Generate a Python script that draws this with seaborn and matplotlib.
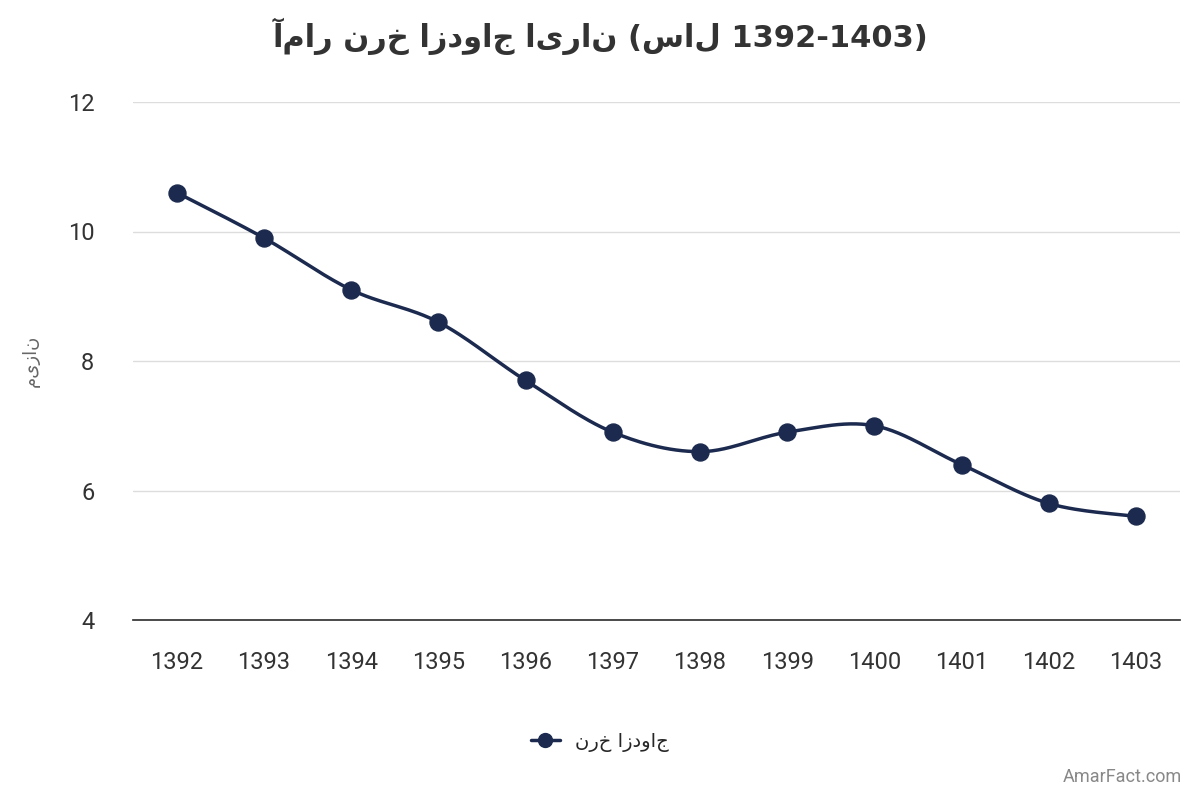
import matplotlib
matplotlib.use("Agg")
import matplotlib.pyplot as plt
import seaborn as sns
import numpy as np
import pandas as pd

years = ["1392","1393","1394","1395","1396","1397","1398","1399","1400","1401","1402","1403"]
rates = [10.6, 9.9, 9.1, 8.6, 7.7, 6.9, 6.6, 6.9, 7.0, 6.4, 5.8, 5.6]
title = "آمار نرخ ازدواج ایران (سال 1392-1403)"
series_name = "نرخ ازدواج"
y_label = "میزان"

sns.set_theme(style="white")
plt.rcParams['font.family'] = ['Roboto', 'DejaVu Sans']
color = "#1b2a4e"

fig = plt.figure(figsize=(12, 8), dpi=100)
ax = fig.add_axes([0.111, 0.225, 0.872, 0.6475])

df = pd.DataFrame({"x": np.arange(len(years)), "y": rates})

# smooth rendering of the line through the data points (Catmull-Rom)
P = np.column_stack([df.x.values, df.y.values]).astype(float)
Pe = np.vstack([P[0], P, P[-1]])
xs, ys = [], []
for i in range(1, len(Pe) - 2):
    p0, p1, p2, p3 = Pe[i-1], Pe[i], Pe[i+1], Pe[i+2]
    t = np.linspace(0, 1, 30)[:, None]
    c = 0.5 * ((2*p1) + (-p0 + p2)*t + (2*p0 - 5*p1 + 4*p2 - p3)*t**2 + (-p0 + 3*p1 - 3*p2 + p3)*t**3)
    xs.extend(c[:, 0]); ys.extend(c[:, 1])
ax.plot(xs, ys, color=color, lw=2.5, zorder=2)
sns.scatterplot(data=df, x="x", y="y", color=color, s=150, ax=ax, zorder=3, edgecolor=color, legend=False)

ax.set_xlim(-0.5, 11.5)
ax.set_ylim(4, 12)
ax.set_yticks([4, 6, 8, 10, 12])
ax.set_xticks(range(len(years)))
ax.set_xticklabels(years)
ax.tick_params(axis='both', labelsize=17, colors="#333333", length=0)
ax.tick_params(axis='x', pad=22)
ax.tick_params(axis='y', pad=28)
ax.grid(axis='y', color="#dddddd", lw=1)
for s in ["top", "right", "left"]:
    ax.spines[s].set_visible(False)
ax.spines["bottom"].set_color("#333333")
ax.set_xlabel("")
ax.set_ylabel(y_label, fontsize=13, color="#666666", family=['DejaVu Sans'], labelpad=20)

fig.text(0.5, 0.955, title, ha='center', va='center', fontsize=22, fontweight='bold', family=['DejaVu Sans'], color="#333333")

from matplotlib.lines import Line2D
h = Line2D([], [], color=color, lw=2.5, marker='o', markersize=10)
fig.legend([h], [series_name], loc='center', bbox_to_anchor=(0.5, 0.073), frameon=False,
           prop={'family': 'DejaVu Sans', 'size': 14}, handlelength=1.5, markerfirst=True)
fig.text(0.985, 0.018, "AmarFact.com", ha='right', va='bottom', fontsize=13, color="#888888")

fig.savefig("out.png", dpi=100)
